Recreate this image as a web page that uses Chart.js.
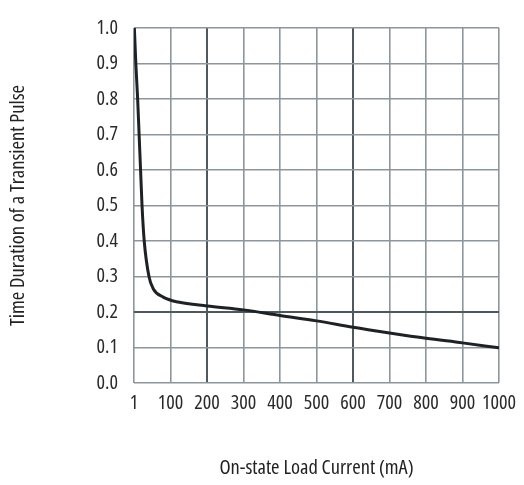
<html>
<head>
    <meta charset="utf-8">
    <script src="https://cdn.jsdelivr.net/npm/chart.js@4.4.0/dist/chart.umd.min.js"></script>
    <title>Transient Pulse</title>
    <style>
        body { margin: 0; background: #fff; }
        #wrap { width: 524px; height: 485px; }
    </style>
</head>
<body>
    <div id="wrap"><canvas id="pulse-chart" width="524" height="485"></canvas></div>
    <script>
        // curve: load current (mA) vs pulse duration
        const currentMa = [1, 5, 10, 14, 18, 22, 28, 41, 53, 80, 121, 200, 300, 400, 500, 600, 700, 800, 900, 1000];
        const pulseDuration = [1.0, 0.9, 0.8, 0.7, 0.6, 0.5, 0.4, 0.3, 0.265, 0.242, 0.228, 0.217, 0.206, 0.19, 0.175, 0.157, 0.141, 0.126, 0.113, 0.099];

        const xTickLabels = ['1', '100', '200', '300', '400', '500', '600', '700', '800', '900', '1000'];
        const yTickLabels = ['0.0', '0.1', '0.2', '0.3', '0.4', '0.5', '0.6', '0.7', '0.8', '0.9', '1.0'];
        const darkX = [200, 600];
        const darkY = [0.2];

        // "condensed" goes in the weight slot so the canvas picks the narrow face
        const family = '"Open Sans", "DejaVu Sans Condensed", sans-serif';
        const light = '#8d969b';
        const dark = '#50585c';

        const points = [];
        for (let i = 0; i < currentMa.length; i++) {
            points.push({ x: currentMa[i], y: pulseDuration[i] });
        }

        new Chart(document.getElementById('pulse-chart'), {
            type: 'line',
            data: {
                datasets: [{
                    data: points,
                    borderColor: '#1e2224',
                    borderWidth: 3,
                    pointRadius: 0,
                    cubicInterpolationMode: 'monotone',
                    fill: false
                }]
            },
            options: {
                responsive: false,
                animation: false,
                layout: { padding: { top: 19, right: 25, left: 0, bottom: 0 } },
                plugins: { legend: { display: false }, tooltip: { enabled: false } },
                scales: {
                    x: {
                        type: 'linear',
                        min: 0,
                        max: 1000,
                        afterFit: s => { s.height = 102; },
                        border: { display: false },
                        grid: {
                            drawTicks: false,
                            lineWidth: c => darkX.includes(c.tick.value) ? 2 : 1.6,
                            color: c => darkX.includes(c.tick.value) ? dark : light
                        },
                        ticks: {
                            stepSize: 100,
                            autoSkip: false,
                            maxRotation: 0,
                            padding: 8,
                            color: '#2a2a2a',
                            font: { family: family, size: 20, weight: 'condensed' },
                            callback: (v) => xTickLabels[Math.round(v / 100)]
                        },
                        title: {
                            display: true,
                            text: 'On-state Load Current (mA)',
                            color: '#222',
                            padding: { bottom: 5 },
                            font: { family: family, size: 20.5, weight: 'condensed' }
                        }
                    },
                    y: {
                        min: 0,
                        max: 1,
                        afterFit: s => { s.width = 134; },
                        border: { display: false },
                        grid: {
                            drawTicks: false,
                            lineWidth: c => darkY.some(d => Math.abs(d - c.tick.value) < 1e-6) ? 2 : 1.6,
                            color: c => darkY.some(d => Math.abs(d - c.tick.value) < 1e-6) ? dark : light
                        },
                        ticks: {
                            stepSize: 0.1,
                            autoSkip: false,
                            padding: 16,
                            color: '#2a2a2a',
                            font: { family: family, size: 20, weight: 'condensed' },
                            callback: (v) => yTickLabels[Math.round(v * 10)]
                        },
                        title: {
                            display: true,
                            text: 'Time Duration of a Transient Pulse',
                            color: '#222',
                            padding: { top: 6 },
                            font: { family: family, size: 20.5, weight: 'condensed' }
                        }
                    }
                }
            }
        });
    </script>
</body>
</html>
